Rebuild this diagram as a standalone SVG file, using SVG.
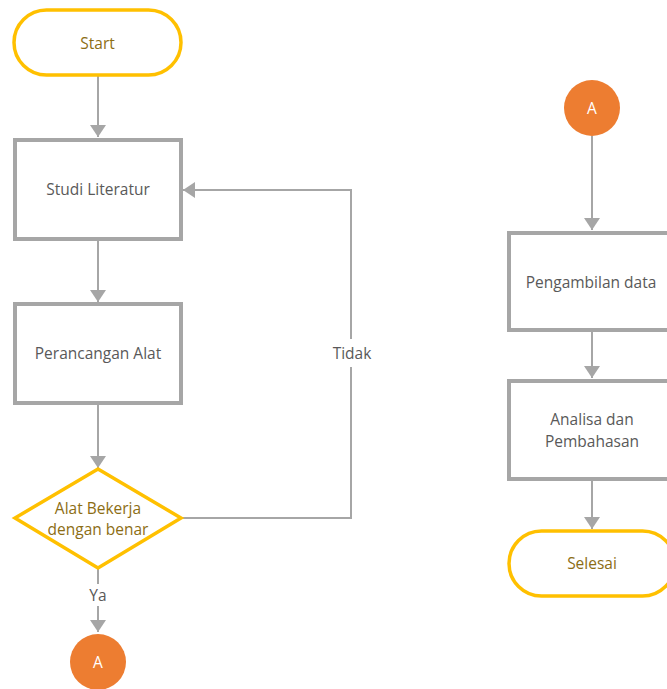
<svg xmlns="http://www.w3.org/2000/svg" width="667" height="689" viewBox="0 0 667 689">
<style>
.box{fill:#fff;stroke:#A6A6A6;stroke-width:4}
.term{fill:#fff;stroke:#FFC000;stroke-width:3.5}
.con{fill:#ED7D31}
.ln{fill:none;stroke:#A6A6A6;stroke-width:2}
.t{font-family:"Open Sans","Noto Sans",sans-serif;font-size:15.5px;text-anchor:middle;dominant-baseline:central}
.tg{fill:#595959}
.ty{fill:#8C6D14}
.tw{fill:#fff}
</style>
<defs>
<marker id="ah" viewBox="0 0 12 16" refX="12" refY="8" markerWidth="12" markerHeight="16" markerUnits="userSpaceOnUse" orient="auto">
<path d="M0,0 L12,8 L0,16 Z" fill="#A6A6A6"/>
</marker>
</defs>
<rect width="667" height="689" fill="#fff"/>
<g id="connectors">
<line class="ln" x1="98" y1="76" x2="98" y2="137" marker-end="url(#ah)"/>
<line class="ln" x1="98" y1="241" x2="98" y2="302" marker-end="url(#ah)"/>
<line class="ln" x1="98" y1="405" x2="98" y2="468" marker-end="url(#ah)"/>
<polyline class="ln" points="181,518 351,518 351,190 183,190" marker-end="url(#ah)"/>
<line class="ln" x1="98" y1="569" x2="98" y2="632" marker-end="url(#ah)"/>
<line class="ln" x1="592" y1="136" x2="592" y2="230" marker-end="url(#ah)"/>
<line class="ln" x1="592" y1="331" x2="592" y2="378" marker-end="url(#ah)"/>
<line class="ln" x1="592" y1="481" x2="592" y2="529" marker-end="url(#ah)"/>
<rect x="328" y="339" width="48" height="28" fill="#fff"/>
<text class="t tg" x="352" y="353">Tidak</text>
<rect x="84" y="584" width="28" height="22" fill="#fff"/>
<text class="t tg" x="98" y="595">Ya</text>
</g>
<g id="start">
<rect class="term" x="14" y="10" width="167" height="65" rx="32.5"/>
<text class="t ty" x="97.5" y="43">Start</text>
</g>
<g id="studi">
<rect class="box" x="15" y="140" width="166" height="99"/>
<text class="t tg" x="98" y="189">Studi Literatur</text>
</g>
<g id="perancangan">
<rect class="box" x="15" y="304" width="166" height="99"/>
<text class="t tg" x="98" y="353">Perancangan Alat</text>
</g>
<g id="decision">
<polygon points="98,469 181,518 98,568 15,518" fill="#fff" stroke="#FFC000" stroke-width="3.5"/>
<text class="t ty" x="98" y="508">Alat Bekerja</text>
<text class="t ty" x="98" y="529">dengan benar</text>
</g>
<g id="connA1">
<circle class="con" cx="98" cy="662" r="28"/>
<text class="t tw" x="98" y="662">A</text>
</g>
<g id="connA2">
<circle class="con" cx="592" cy="108" r="28"/>
<text class="t tw" x="592" y="108">A</text>
</g>
<g id="pengambilan">
<rect class="box" x="509" y="233" width="166" height="97"/>
<text class="t tg" x="591" y="282">Pengambilan data</text>
</g>
<g id="analisa">
<rect class="box" x="509" y="381" width="166" height="98"/>
<text class="t tg" x="592" y="419">Analisa dan</text>
<text class="t tg" x="592" y="441">Pembahasan</text>
</g>
<g id="selesai">
<rect class="term" x="509" y="531" width="166" height="65" rx="32.5"/>
<text class="t ty" x="592" y="563">Selesai</text>
</g>
</svg>
